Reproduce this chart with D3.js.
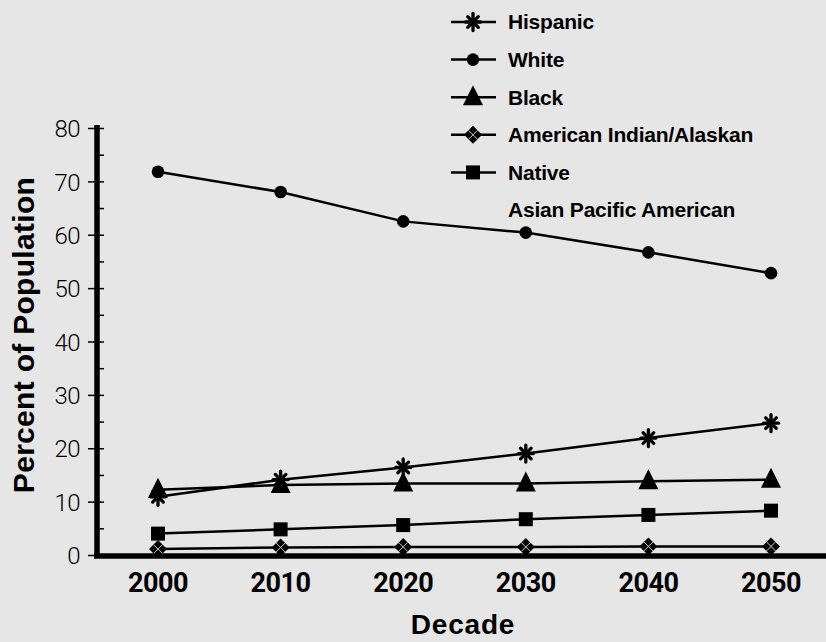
<!DOCTYPE html>
<html>
<head>
<meta charset="utf-8">
<script src="https://cdn.jsdelivr.net/npm/d3@7"></script>
<style>
  html, body { margin: 0; padding: 0; background: #e6e6e6; }
  svg { display: block; }
</style>
</head>
<body>
<div id="chart"></div>
<script>
// Données
const decades = ['2000', '2010', '2020', '2030', '2040', '2050'];
const hispanic = [11, 14.2, 16.5, 19.1, 22, 24.8];
const white = [71.9, 68.1, 62.6, 60.5, 56.8, 52.9];
const black = [12.3, 13.2, 13.5, 13.5, 13.9, 14.2];
const amIndian = [1.2, 1.5, 1.6, 1.6, 1.7, 1.7];
const native = [4.1, 4.9, 5.7, 6.8, 7.6, 8.4];
const yTicks = [0, 10, 20, 30, 40, 50, 60, 70, 80];
const legendLabels = ['Hispanic', 'White', 'Black', 'American Indian/Alaskan', 'Native', 'Asian Pacific American'];

const series = [
    { name: 'Hispanic', values: hispanic, symbol: 'star' },
    { name: 'White', values: white, symbol: 'circle' },
    { name: 'Black', values: black, symbol: 'triangle' },
    { name: 'American Indian/Alaskan', values: amIndian, symbol: 'diamond' },
    { name: 'Native', values: native, symbol: 'square' }
];

const W = 826, H = 642;
const svg = d3.select('#chart').append('svg')
    .attr('width', W).attr('height', H);

svg.append('rect').attr('width', W).attr('height', H).attr('fill', '#e6e6e6');

// Échelles
const x = d3.scalePoint().domain(decades).range([158, 771]);
const y = d3.scaleLinear().domain([0, 80]).range([555.5, 128.5]);

// Symboles
function drawSymbol(g, type) {
    if (type === 'circle') {
        g.append('circle').attr('r', 6.3).attr('fill', '#000');
    } else if (type === 'square') {
        g.append('rect').attr('x', -7).attr('y', -7).attr('width', 14).attr('height', 14).attr('fill', '#000');
    } else if (type === 'triangle') {
        g.append('path').attr('d', 'M0,-12 L10,8 L-10,8 Z').attr('fill', '#000');
    } else if (type === 'diamond') {
        g.append('path').attr('d', 'M0,-9 L9,0 L0,9 L-9,0 Z').attr('fill', '#000');
        g.append('path').attr('d', 'M-4.5,-4.5 L4.5,4.5 M4.5,-4.5 L-4.5,4.5')
            .attr('stroke', '#ccc').attr('stroke-width', 1);
    } else if (type === 'star') {
        for (let i = 0; i < 8; i++) {
            const a = i * Math.PI / 4;
            const r = (i % 4 === 0) ? 8.5 : 7.5;
            g.append('line')
                .attr('x1', 0).attr('y1', 0)
                .attr('x2', r * Math.sin(a)).attr('y2', -r * Math.cos(a))
                .attr('stroke', '#000').attr('stroke-width', 3.3)
                .attr('stroke-linecap', 'round');
        }
    }
}

// Lignes
const line = d3.line()
    .x((d, i) => x(decades[i]))
    .y(d => y(d));

series.forEach(s => {
    svg.append('path')
        .datum(s.values)
        .attr('d', line)
        .attr('fill', 'none')
        .attr('stroke', '#000')
        .attr('stroke-width', 2.5);
});

series.forEach(s => {
    s.values.forEach((v, i) => {
        const g = svg.append('g').attr('transform', `translate(${x(decades[i])},${y(v)})`);
        drawSymbol(g, s.symbol);
    });
});

// Axe Y
const yAxis = svg.append('g');
yAxis.append('line')
    .attr('x1', 97).attr('x2', 97)
    .attr('y1', 125).attr('y2', 558)
    .attr('stroke', '#000').attr('stroke-width', 5.5);
yTicks.forEach(t => {
    yAxis.append('line')
        .attr('x1', 88).attr('x2', 104)
        .attr('y1', y(t)).attr('y2', y(t))
        .attr('stroke', '#000').attr('stroke-width', 1.5);
    yAxis.append('text')
        .attr('x', 80).attr('y', y(t))
        .attr('dy', '0.36em')
        .attr('text-anchor', 'end')
        .attr('font-family', 'Roboto')
        .attr('font-weight', 300)
        .attr('font-size', 24)
        .attr('letter-spacing', -0.5)
        .attr('fill', '#000')
        .text(t);
});
d3.range(5, 80, 10).forEach(t => {
    yAxis.append('line')
        .attr('x1', 97).attr('x2', 104)
        .attr('y1', y(t)).attr('y2', y(t))
        .attr('stroke', '#000').attr('stroke-width', 1.5);
});

// Axe X
svg.append('line')
    .attr('x1', 94).attr('x2', W)
    .attr('y1', 556).attr('y2', 556)
    .attr('stroke', '#000').attr('stroke-width', 5.5);
decades.forEach(d => {
    svg.append('text')
        .attr('x', x(d)).attr('y', 592)
        .attr('text-anchor', 'middle')
        .attr('font-family', 'Roboto')
        .attr('font-weight', 700)
        .attr('font-size', 27)
        .attr('letter-spacing', -0.5)
        .attr('fill', '#000')
        .text(d);
});

// Titres d'axes
svg.append('text')
    .attr('x', 463).attr('y', 634)
    .attr('text-anchor', 'middle')
    .attr('font-family', 'Liberation Sans')
    .attr('font-weight', 700)
    .attr('font-size', 28)
    .attr('letter-spacing', 0.8)
    .text('Decade');

svg.append('text')
    .attr('transform', 'translate(34,335) rotate(-90)')
    .attr('text-anchor', 'middle')
    .attr('font-family', 'Liberation Sans')
    .attr('font-weight', 700)
    .attr('font-size', 30)
    .attr('letter-spacing', 0.3)
    .text('Percent of Population');

// Légende
const legendY = d3.scalePoint().domain(legendLabels).range([22, 210]);
const symbols = ['star', 'circle', 'triangle', 'diamond', 'square'];
legendLabels.forEach((lbl, i) => {
    const ly = legendY(lbl);
    if (i < symbols.length) {
        svg.append('line')
            .attr('x1', 451).attr('x2', 496)
            .attr('y1', ly).attr('y2', ly)
            .attr('stroke', '#000').attr('stroke-width', 2.5);
        const g = svg.append('g').attr('transform', `translate(473,${ly})`);
        drawSymbol(g, symbols[i]);
    }
    svg.append('text')
        .attr('x', 508).attr('y', ly)
        .attr('dy', '0.35em')
        .attr('font-family', 'Liberation Sans')
        .attr('font-weight', 700)
        .attr('font-size', 21)
        .attr('letter-spacing', -0.2)
        .attr('fill', '#000')
        .text(lbl);
});
</script>
</body>
</html>
